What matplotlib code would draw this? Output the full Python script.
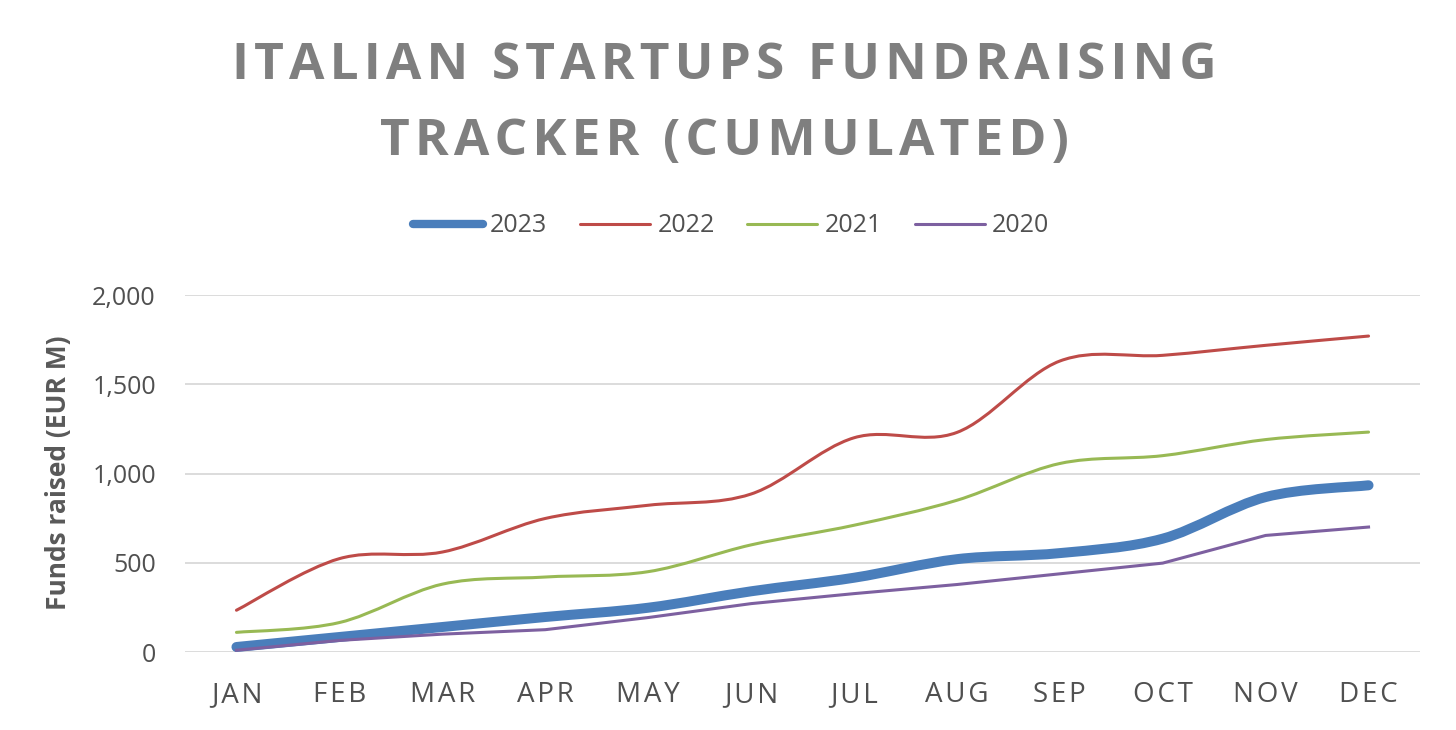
import numpy as np
import matplotlib
matplotlib.use("Agg")
import matplotlib.pyplot as plt
from matplotlib.path import Path
from matplotlib.patches import PathPatch
from matplotlib.lines import Line2D

# Data (EUR M, cumulated)
months = ["JAN", "FEB", "MAR", "APR", "MAY", "JUN",
          "JUL", "AUG", "SEP", "OCT", "NOV", "DEC"]
funds_2023 = [28, 84, 140, 196, 248, 340, 416, 520, 554, 635, 868, 934]
funds_2022 = [234, 523, 560, 748, 822, 885, 1200, 1230, 1630, 1662, 1718, 1770]
funds_2021 = [110, 165, 380, 420, 450, 600, 710, 850, 1056, 1100, 1190, 1232]
funds_2020 = [10, 65, 100, 125, 193, 271, 327, 378, 438, 498, 653, 700]
y_ticks = [0, 500, 1000, 1500, 2000]

FONT = ["Open Sans", "DejaVu Sans"]
plt.rcParams["font.family"] = FONT
HAIR = "\u200a"


def spaced(s):
    # fake letter spacing with hair spaces
    return HAIR.join(s)


def smooth_path(x, y):
    # Excel-like smoothed line: cubic Bezier through each point
    pts = np.column_stack([x, y]).astype(float)
    n = len(pts)
    verts = [pts[0]]
    codes = [Path.MOVETO]
    for i in range(n - 1):
        p0 = pts[max(i - 1, 0)]
        p1 = pts[i]
        p2 = pts[i + 1]
        p3 = pts[min(i + 2, n - 1)]
        verts += [p1 + (p2 - p0) / 6, p2 - (p3 - p1) / 6, p2]
        codes += [Path.CURVE4] * 3
    return Path(verts, codes)


fig = plt.figure(figsize=(14.56, 7.30), dpi=100)
ax = fig.add_axes([185 / 1456, 78 / 730, 1235 / 1456, 357 / 730])

x = np.arange(len(months))
series = [
    ("2023", funds_2023, "#4A7EBB", 7.2, True),
    ("2022", funds_2022, "#BE4B48", 2.2, True),
    ("2021", funds_2021, "#98B954", 2.2, True),
    ("2020", funds_2020, "#7D60A0", 2.2, False),
]

handles = []
for i, (name, vals, color, lw, smooth) in enumerate(series):
    if smooth:
        patch = PathPatch(smooth_path(x, vals), fill=False, edgecolor=color,
                          lw=lw, capstyle="round", joinstyle="round",
                          zorder=3 + i, clip_on=False)
        ax.add_patch(patch)
    else:
        ax.plot(x, vals, color=color, lw=lw, zorder=3 + i, clip_on=False)
    handles.append(Line2D([], [], color=color, lw=lw if lw < 5 else 6,
                          solid_capstyle="round", label=name))

ax.set_xlim(-0.5, len(months) - 0.5)
ax.set_ylim(0, 2000)

ax.set_xticks(x)
ax.set_xticklabels([spaced(m) for m in months], fontsize=20, color="#505050")
ax.set_yticks(y_ticks)
ax.set_yticklabels([f"{v:,}" for v in y_ticks], fontsize=18, color="#505050")
ax.tick_params(axis="both", length=0)
ax.tick_params(axis="x", pad=21)
ax.tick_params(axis="y", pad=21)

ax.grid(axis="y", color="#D9D9D9", lw=1.3, zorder=0)
ax.set_axisbelow(True)
for s in ax.spines.values():
    s.set_visible(False)

fig.text(59 / 1456, 1 - 473 / 730, "Funds raised (EUR M)", rotation=90,
         ha="center", va="center", fontsize=19, fontweight="bold",
         color="#595959")

fig.text(724 / 1456, 1 - 79 / 730, spaced("ITALIAN STARTUPS FUNDRAISING"),
         ha="center", va="baseline", fontsize=37, fontweight="bold",
         color="#7F7F7F")
fig.text(724 / 1456, 1 - 155 / 730, spaced("TRACKER (CUMULATED)"),
         ha="center", va="baseline", fontsize=37, fontweight="bold",
         color="#7F7F7F")

leg = fig.legend(handles=handles, loc="center",
                 bbox_to_anchor=(731 / 1456, 1 - 226 / 730), ncol=4,
                 frameon=False, fontsize=18, handlelength=2.8,
                 handletextpad=0.3, columnspacing=1.3)
for t in leg.get_texts():
    t.set_color("#505050")

fig.savefig("out.png", dpi=100)
